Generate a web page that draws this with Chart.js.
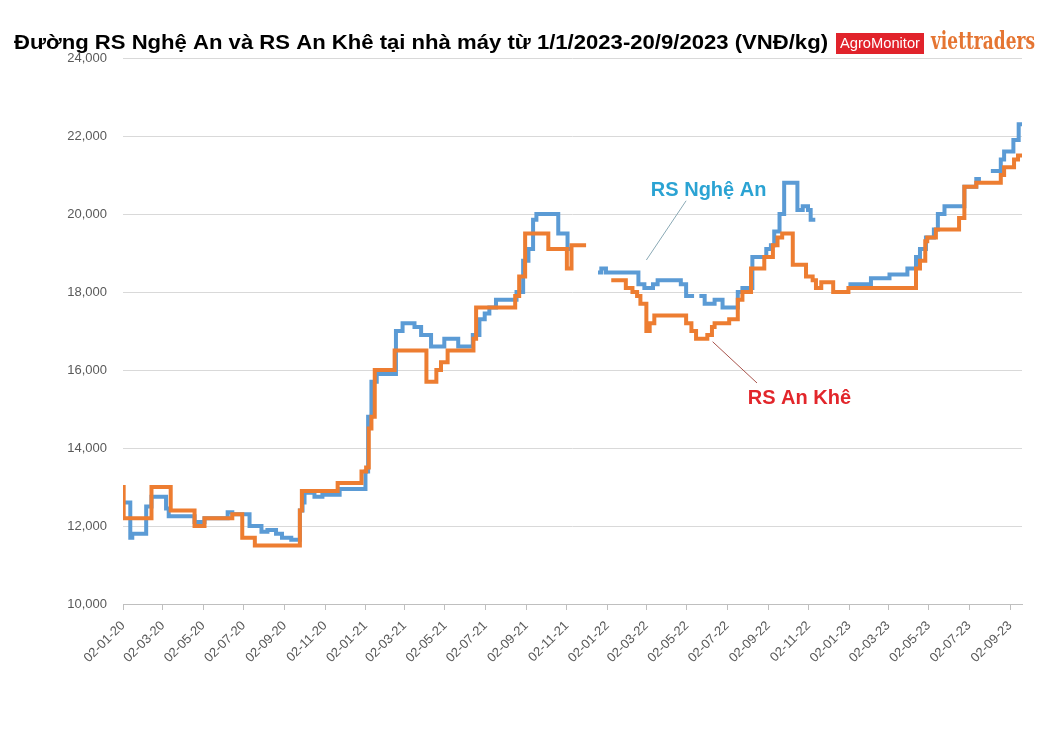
<!DOCTYPE html>
<html>
<head>
<meta charset="utf-8">
<script src="https://cdn.jsdelivr.net/npm/chart.js@4.4.0/dist/chart.umd.min.js"></script>
<style>
  body { margin: 0; background: #fff; }
  #wrap { width: 1046px; height: 730px; }
</style>
</head>
<body>
<div id="wrap"><canvas id="rsChart" width="1046" height="730"></canvas></div>
<script>
// x axis ticks (dd-mm-yy), every two months
const tickLabels = ['02-01-20', '02-03-20', '02-05-20', '02-07-20', '02-09-20', '02-11-20',
    '02-01-21', '02-03-21', '02-05-21', '02-07-21', '02-09-21', '02-11-21',
    '02-01-22', '02-03-22', '02-05-22', '02-07-22', '02-09-22', '02-11-22',
    '02-01-23', '02-03-23', '02-05-23', '02-07-23', '02-09-23'];

// RS Nghe An: date where the price changes, and the new price (null = no data)
const ngheAnDates = ['2020-01-02', '2020-01-13', '2020-01-16', '2020-02-06', '2020-02-14', '2020-03-07',
    '2020-03-11', '2020-04-19', '2020-05-04', '2020-06-08', '2020-06-15', '2020-07-11', '2020-07-29',
    '2020-08-07', '2020-08-20', '2020-08-29', '2020-09-12', '2020-09-25', '2020-09-29', '2020-10-02',
    '2020-10-17', '2020-10-29', '2020-11-24', '2021-01-02', '2021-01-06', '2021-01-11', '2021-01-19',
    '2021-02-17', '2021-02-27', '2021-03-17', '2021-03-27', '2021-04-11', '2021-05-01', '2021-05-22',
    '2021-06-13', '2021-06-23', '2021-07-01', '2021-07-08', '2021-07-18', '2021-08-18', '2021-08-28',
    '2021-09-05', '2021-09-12', '2021-09-17', '2021-10-20', '2021-11-03', '2021-11-09', '2021-12-01',
    '2021-12-19', '2021-12-24', '2021-12-31', '2022-02-18', '2022-02-27', '2022-03-12', '2022-03-19',
    '2022-04-23', '2022-05-01', '2022-05-13', '2022-05-17', '2022-05-21', '2022-05-29', '2022-06-13',
    '2022-06-25', '2022-07-18', '2022-07-25', '2022-08-09', '2022-08-30', '2022-09-06', '2022-09-11',
    '2022-09-19', '2022-09-26', '2022-10-16', '2022-10-24', '2022-11-01', '2022-11-05', '2022-11-12',
    '2022-12-01', '2023-01-01', '2023-02-04', '2023-03-04', '2023-03-31', '2023-04-13', '2023-04-19',
    '2023-04-28', '2023-05-10', '2023-05-16', '2023-05-26', '2023-06-25', '2023-07-13', '2023-07-20',
    '2023-07-27', '2023-08-04', '2023-08-19', '2023-08-24', '2023-09-07', '2023-09-15', '2023-09-20'];
const ngheAnValues = [12600, 11700, 11800, 12500, 12750, 12450,
    12250, 12100, 12200, 12350, 12300, 12000, 11850,
    11900, 11800, 11700, 11650, 12400, 12600, 12850,
    12750, 12800, 12950, 13400, 14800, 15700, 15900,
    17000, 17200, 17100, 16900, 16600, 16800, 16600,
    16900, 17300, 17450, 17600, 17800, 18000, 18800,
    19100, 19850, 20000, 19500, 19100, 19100, null,
    18500, 18600, 18500, 18200, 18100, 18200, 18300,
    18200, 17900, 17900, null, 17900, 17700, 17800,
    17600, 18000, 18100, 18900, 19100, 19200, 19550,
    20000, 20800, 20100, 20200, 20100, 19850, 19850,
    null, 18200, 18350, 18450, 18600, 18900, 19100,
    19400, 19600, 20000, 20200, 20700, 20900, 20900,
    null, 21100, 21400, 21600, 21900, 22300, 22300];

// RS An Khe
const anKheDates = ['2020-01-02', '2020-01-03', '2020-02-14', '2020-03-14', '2020-04-19', '2020-05-04',
    '2020-06-15', '2020-06-30', '2020-07-19', '2020-09-25', '2020-09-28', '2020-11-21', '2020-12-27',
    '2021-01-03', '2021-01-07', '2021-01-11', '2021-01-16', '2021-02-15', '2021-04-04', '2021-04-19',
    '2021-04-26', '2021-05-06', '2021-06-14', '2021-06-18', '2021-08-16', '2021-08-22', '2021-08-31',
    '2021-10-05', '2021-11-02', '2021-11-09', '2021-12-01', '2021-12-15', '2022-01-08', '2022-01-30',
    '2022-02-09', '2022-02-16', '2022-02-21', '2022-03-02', '2022-03-07', '2022-03-14', '2022-05-01',
    '2022-05-09', '2022-05-16', '2022-06-02', '2022-06-09', '2022-06-13', '2022-07-05', '2022-07-18',
    '2022-07-25', '2022-08-07', '2022-08-27', '2022-09-09', '2022-09-16', '2022-09-23', '2022-10-09',
    '2022-10-29', '2022-11-08', '2022-11-13', '2022-11-21', '2022-12-09', '2023-01-01', '2023-04-13',
    '2023-04-19', '2023-04-27', '2023-04-30', '2023-05-13', '2023-06-17', '2023-06-25', '2023-07-13',
    '2023-08-19', '2023-08-24', '2023-09-08', '2023-09-14', '2023-09-20'];
const anKheValues = [13000, 12200, 13000, 12400, 12000, 12200,
    12300, 11700, 11500, 12400, 12900, 13100, 13400,
    13500, 14500, 14800, 16000, 16500, 15700, 16000,
    16200, 16500, 16800, 17600, 17900, 18400, 19500,
    19100, 18600, 19200, 19200, null, 18300, 18100,
    18000, 17900, 17700, 17000, 17200, 17400, 17200,
    17000, 16800, 16900, 17100, 17200, 17300, 17800,
    18000, 18600, 18900, 19200, 19400, 19500, 18700,
    18400, 18300, 18100, 18250, 18000, 18100, 18600,
    18800, 19300, 19400, 19600, 19900, 20700, 20800,
    21000, 21200, 21400, 21500, 21500];

const yTicks = [10000, 12000, 14000, 16000, 18000, 20000, 22000, 24000];

// series labels drawn on the chart: text, [date, value] of label centre, leader line start and end
const ngheAnLabel = { text: 'RS Nghệ An', at: ['2022-06-04', 20615], from: ['2022-05-01', 20340], to: ['2022-03-02', 18820] };
const anKheLabel = { text: 'RS An Khê', at: ['2022-10-19', 15282], from: ['2022-06-10', 16725], to: ['2022-08-16', 15667] };

function dayNum(iso) {
    const p = iso.split('-');
    return Date.UTC(+p[0], +p[1] - 1, +p[2]) / 86400000;
}
function tickDay(lbl) {
    const p = lbl.split('-');
    return dayNum('20' + p[2] + '-' + p[1] + '-' + p[0]);
}
function toPoints(dates, values) {
    return dates.map((d, i) => ({ x: dayNum(d), y: values[i] }));
}

const decorPlugin = {
    id: 'decor',
    afterDraw(chart) {
        const ctx = chart.ctx;
        const xs = chart.scales.x, ys = chart.scales.y;
        ctx.save();

        // title, squeezed to the width of the original narrow font
        ctx.fillStyle = '#000';
        ctx.font = 'bold 21px "Liberation Sans"';
        ctx.textBaseline = 'middle';
        const title = 'Đường RS Nghệ An và RS An Khê tại nhà máy từ 1/1/2023-20/9/2023 (VNĐ/kg)';
        let w = ctx.measureText(title).width;
        ctx.save();
        ctx.translate(14, 43);
        ctx.scale(814 / w, 1);
        ctx.fillText(title, 0, 0);
        ctx.restore();

        // logos
        ctx.fillStyle = '#e1232b';
        ctx.fillRect(836, 33, 88, 21);
        ctx.fillStyle = '#fff';
        ctx.font = '14px "Liberation Sans"';
        w = ctx.measureText('AgroMonitor').width;
        ctx.save();
        ctx.translate(840, 44);
        ctx.scale(80 / w, 1);
        ctx.fillText('AgroMonitor', 0, 0);
        ctx.restore();

        ctx.fillStyle = '#e57532';
        ctx.font = 'bold 24px "DejaVu Serif"';
        w = ctx.measureText('viettraders').width;
        ctx.save();
        ctx.translate(931, 43);
        ctx.scale(104 / w, 1);
        ctx.fillText('viettraders', 0, 0);
        ctx.restore();

        // series labels with leader lines
        const drawLabel = (lab, color, lineColor) => {
            ctx.strokeStyle = lineColor;
            ctx.lineWidth = 1;
            ctx.beginPath();
            ctx.moveTo(xs.getPixelForValue(dayNum(lab.from[0])), ys.getPixelForValue(lab.from[1]));
            ctx.lineTo(xs.getPixelForValue(dayNum(lab.to[0])), ys.getPixelForValue(lab.to[1]));
            ctx.stroke();
            ctx.fillStyle = color;
            ctx.font = 'bold 20px "Liberation Sans"';
            ctx.textAlign = 'center';
            ctx.fillText(lab.text, xs.getPixelForValue(dayNum(lab.at[0])), ys.getPixelForValue(lab.at[1]));
        };
        drawLabel(ngheAnLabel, '#2ba3d3', '#8aa9b5');
        drawLabel(anKheLabel, '#e2262b', '#a8544c');
        ctx.restore();
    }
};

const ctx = document.getElementById('rsChart').getContext('2d');
new Chart(ctx, {
    type: 'line',
    data: {
        datasets: [{
            label: 'RS An Khê',
            data: toPoints(anKheDates, anKheValues),
            borderColor: '#ed7d31',
            borderWidth: 4,
            stepped: true,
            pointRadius: 0,
            spanGaps: false,
            order: 0
        }, {
            label: 'RS Nghệ An',
            data: toPoints(ngheAnDates, ngheAnValues),
            borderColor: '#5b9bd5',
            borderWidth: 4,
            stepped: true,
            pointRadius: 0,
            spanGaps: false,
            order: 1
        }]
    },
    options: {
        responsive: false,
        animation: false,
        layout: { padding: { top: 58, right: 24, left: 0, bottom: 0 } },
        plugins: {
            legend: { display: false },
            tooltip: { enabled: false }
        },
        scales: {
            x: {
                type: 'linear',
                min: dayNum('2020-01-02'),
                max: dayNum('2023-09-20'),
                afterBuildTicks: scale => {
                    scale.ticks = tickLabels.map(t => ({ value: tickDay(t) }));
                },
                afterFit: scale => { scale.height = 126; },
                grid: { drawOnChartArea: false, drawTicks: true, tickLength: 6, color: '#bfbfbf' },
                border: { color: '#bfbfbf' },
                ticks: {
                    autoSkip: false,
                    minRotation: 45,
                    maxRotation: 45,
                    padding: 8,
                    color: '#595959',
                    font: { family: '"Liberation Sans"', size: 13 },
                    callback: (value, index) => tickLabels[index]
                }
            },
            y: {
                min: 10000,
                max: 24000,
                afterBuildTicks: scale => {
                    scale.ticks = yTicks.map(v => ({ value: v }));
                },
                afterFit: scale => { scale.width = 123; },
                grid: { color: '#d9d9d9', drawTicks: false },
                border: { display: false },
                ticks: {
                    padding: 16,
                    color: '#595959',
                    font: { family: '"Liberation Sans"', size: 13 },
                    callback: value => value.toLocaleString('en-US')
                }
            }
        }
    },
    plugins: [decorPlugin]
});
</script>
</body>
</html>
